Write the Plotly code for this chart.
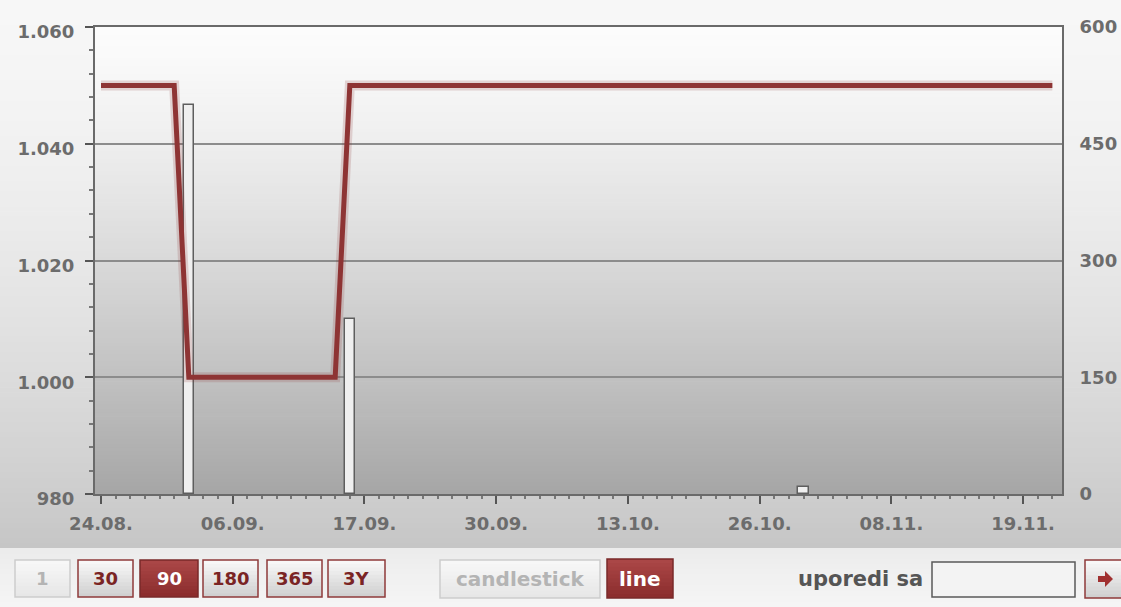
import plotly.graph_objects as go

# ---------------- data ----------------
day_index = list(range(66))
price = [1050, 1050, 1050, 1050, 1050, 1050,
         1000, 1000, 1000, 1000, 1000, 1000, 1000, 1000, 1000, 1000, 1000,
         1050, 1050, 1050, 1050, 1050, 1050, 1050, 1050, 1050, 1050, 1050,
         1050, 1050, 1050, 1050, 1050, 1050, 1050, 1050, 1050, 1050, 1050,
         1050, 1050, 1050, 1050, 1050, 1050, 1050, 1050, 1050, 1050, 1050,
         1050, 1050, 1050, 1050, 1050, 1050, 1050, 1050, 1050, 1050, 1050,
         1050, 1050, 1050, 1050, 1050]
volume_days = [6, 17, 48]
volume = [500, 225, 9]

date_tick_pos = [0, 9, 18, 27, 36, 45, 54, 63]
date_tick_labels = ["24.08.", "06.09.", "17.09.", "30.09.", "13.10.", "26.10.", "08.11.", "19.11."]
price_ticks = [980, 1000, 1020, 1040, 1060]
price_tick_labels = ["980", "1.000", "1.020", "1.040", "1.060"]
volume_ticks = [0, 150, 300, 450, 600]
volume_tick_labels = ["0", "150", "300", "450", "600"]

range_buttons = ["1", "30", "90", "180", "365", "3Y"]
chart_types = ["candlestick", "line"]
compare_label = "uporedi sa"

# ---------------- geometry helpers ----------------
W, H = 1121, 607
L, R, T, B = 95, 1062, 27, 494


def px(x):
    return (x - L) / (R - L)


def py(y):
    return (B - y) / (B - T)


def mix(c1, c2, t):
    return "rgb(%d,%d,%d)" % tuple(round(a + (b - a) * t) for a, b in zip(c1, c2))


shapes = []


def grad(x0, y0, x1, y1, top, bot, n, gamma=1.0, layer="below"):
    for i in range(n):
        ya = y0 + (y1 - y0) * i / n
        yb = y0 + (y1 - y0) * (i + 1) / n + 0.7
        if yb > y1:
            yb = y1
        t = ((i + 0.5) / n) ** gamma
        shapes.append(dict(type="rect", xref="paper", yref="paper",
                           x0=px(x0), x1=px(x1), y0=py(yb), y1=py(ya),
                           fillcolor=mix(top, bot, t), line=dict(width=0), layer=layer))


# outer background
grad(-5, -5, 1130, 548, (247, 247, 247), (198, 198, 198), 110, gamma=1.6)
grad(-5, 548, 1130, 612, (236, 236, 236), (246, 246, 246), 12)
# plot area gradient
grad(L, T, R, B, (252, 252, 252), (166, 166, 166), 120, gamma=1.3)

annotations = []
FONT = "DejaVu Sans"

styles = {
    "off": dict(top=(248, 248, 248), bot=(230, 230, 230), border="#cdcdcd", text="#b4b4b4"),
    "norm": dict(top=(250, 250, 250), bot=(206, 206, 206), border="#8e3a3a", text="#7a2424"),
    "on": dict(top=(172, 72, 72), bot=(138, 44, 44), border="#7a2a2a", text="#ffffff"),
}


def button(label, x0, y0, x1, y1, kind, size):
    s = styles[kind]
    grad(x0, y0, x1, y1, s["top"], s["bot"], 10, layer="above")
    shapes.append(dict(type="rect", xref="paper", yref="paper",
                       x0=px(x0), x1=px(x1), y0=py(y1), y1=py(y0),
                       fillcolor="rgba(0,0,0,0)", line=dict(color=s["border"], width=1.5),
                       layer="above"))
    if label:
        annotations.append(dict(text=label, xref="paper", yref="paper",
                                x=px((x0 + x1) / 2), y=py((y0 + y1) / 2),
                                xanchor="center", yanchor="middle", showarrow=False,
                                font=dict(family=FONT, size=size, color=s["text"], weight="bold")))


rb_boxes = [(15, 70), (78, 133), (140, 198), (203, 258), (267, 322), (328, 385)]
rb_kinds = ["off", "norm", "on", "norm", "norm", "norm"]
for lab, (a, b), k in zip(range_buttons, rb_boxes, rb_kinds):
    button(lab, a, 560, b, 597, k, 18)

button(chart_types[0], 440, 560, 600, 598, "off", 20)
button(chart_types[1], 607, 559, 673, 598, "on", 20)

annotations.append(dict(text=compare_label, xref="paper", yref="paper",
                        x=px(860), y=py(579), xanchor="center", yanchor="middle",
                        showarrow=False,
                        font=dict(family=FONT, size=21, color="#555555", weight="bold")))
# input box
shapes.append(dict(type="rect", xref="paper", yref="paper",
                   x0=px(932), x1=px(1075), y0=py(597), y1=py(562),
                   fillcolor="#f3f3f3", line=dict(color="#5a5a5a", width=1.5), layer="above"))
# arrow button
button("", 1085, 560, 1132, 598, "norm", 18)
arrow = [(1098, 576), (1105, 576), (1105, 571), (1113, 579), (1105, 587), (1105, 582), (1098, 582)]
path = "M " + " L ".join("%f,%f" % (px(x), py(y)) for x, y in arrow) + " Z"
shapes.append(dict(type="path", xref="paper", yref="paper", path=path,
                   fillcolor="#a03030", line=dict(width=0), layer="above"))

# ---------------- traces ----------------
fig = go.Figure()
fig.add_trace(go.Bar(x=volume_days, y=volume, yaxis="y", width=0.7,
                     marker=dict(color="#efefef", line=dict(color="#5e5e5e", width=1.5)),
                     showlegend=False, hoverinfo="x+y"))
fig.add_trace(go.Scatter(x=day_index, y=price, yaxis="y2", mode="lines",
                         line=dict(color="rgba(140,52,52,0.18)", width=10),
                         showlegend=False, hoverinfo="skip"))
fig.add_trace(go.Scatter(x=day_index, y=price, yaxis="y2", mode="lines",
                         line=dict(color="#8e3434", width=5),
                         showlegend=False))

tickfont = dict(family=FONT, size=18, color="#6c6c6c", weight="bold")

fig.update_layout(
    width=W, height=H,
    margin=dict(l=L, r=W - R, t=T, b=H - B, pad=0, autoexpand=False),
    paper_bgcolor="#f1f1f1",
    plot_bgcolor="rgba(0,0,0,0)",
    showlegend=False,
    bargap=0,
    shapes=shapes,
    annotations=annotations,
    xaxis=dict(range=[-0.41, 65.66], tickmode="array", tickvals=date_tick_pos,
               ticktext=date_tick_labels, ticks="outside", ticklen=8, tickwidth=2,
               tickcolor="#555555", showline=True, linecolor="#6a6a6a", linewidth=2,
               mirror=True, showgrid=False, zeroline=False, tickfont=tickfont,
               ticklabelstandoff=4, automargin=False,
               minor=dict(tickvals=day_index, ticks="outside", ticklen=3, tickwidth=1.5,
                          tickcolor="#777777", showgrid=False)),
    yaxis=dict(range=[0, 600], side="right", tickmode="array", tickvals=volume_ticks,
               ticktext=volume_tick_labels, ticks="", showgrid=False, zeroline=False,
               showline=True, linecolor="#6a6a6a", linewidth=2, tickfont=tickfont,
               ticklabelstandoff=12, automargin=False),
    yaxis2=dict(range=[980, 1060], side="left", overlaying="y", tickmode="array",
                tickvals=price_ticks, ticktext=price_tick_labels, ticks="outside",
                ticklen=8, tickwidth=2, tickcolor="#555555", showgrid=True,
                gridcolor="#8c8c8c", gridwidth=1.5, zeroline=False, showline=True,
                linecolor="#6a6a6a", linewidth=2, tickfont=tickfont,
                ticklabelstandoff=7, ticklabelshift=5, automargin=False,
                minor=dict(dtick=4, tick0=980, ticks="outside", ticklen=4, tickwidth=1.5,
                           tickcolor="#777777", showgrid=False)),
)

fig.write_html("out.html", config={"displayModeBar": False},
               post_script="document.body.style.margin='0';document.body.style.overflow='hidden';")
